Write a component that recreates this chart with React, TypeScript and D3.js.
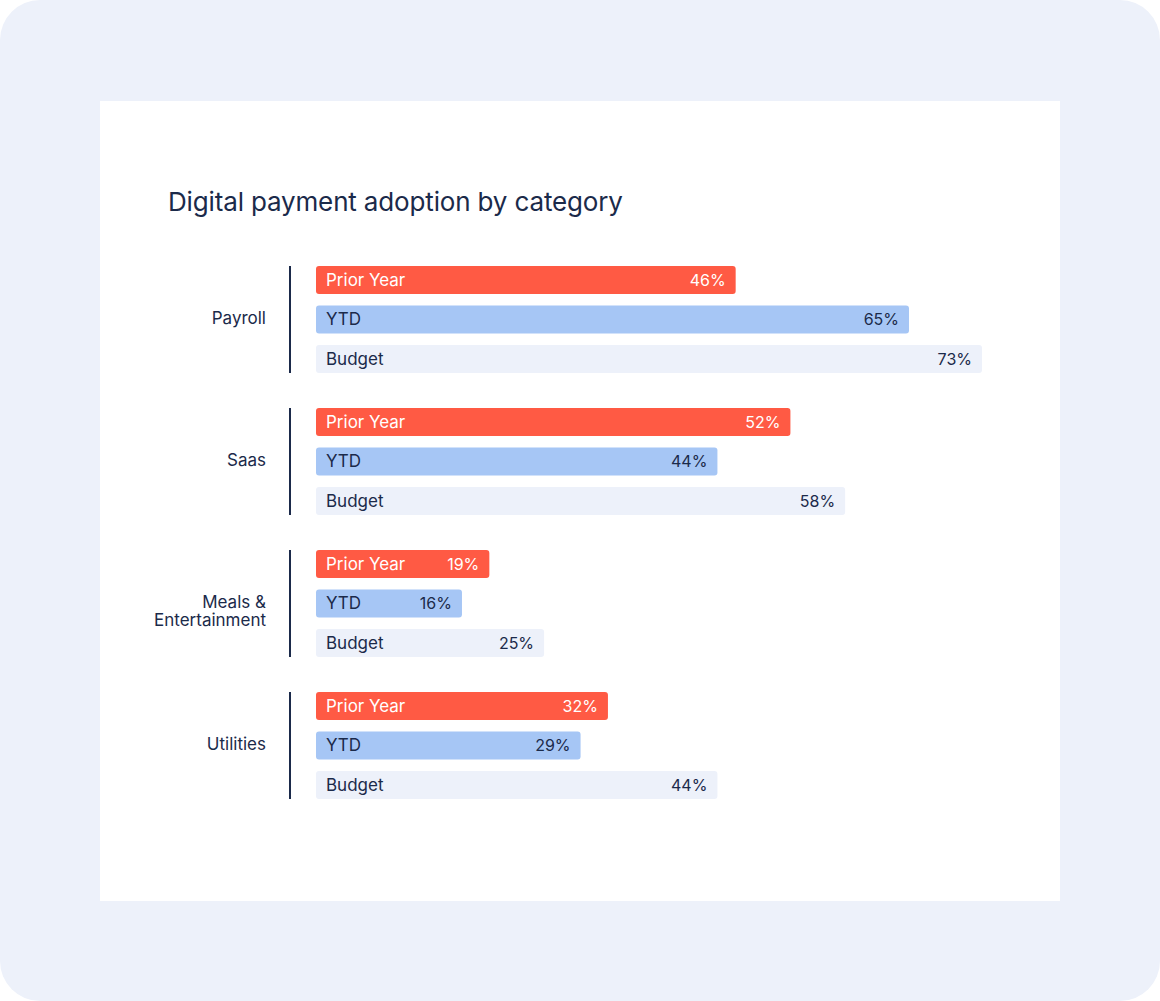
import { useEffect, useRef } from 'react'
import * as d3 from 'd3'

const categories = ['Payroll', 'Saas', 'Meals & Entertainment', 'Utilities']
const series = ['Prior Year', 'YTD', 'Budget']
const priorYear = [46, 52, 19, 32]
const ytd = [65, 44, 16, 29]
const budget = [73, 58, 25, 44]

const FILL: Record<string, string> = { 'Prior Year': '#FF5A44', YTD: '#A6C6F5', Budget: '#EDF1FA' }
const INK: Record<string, string> = { 'Prior Year': '#FFFFFF', YTD: '#1B2A4A', Budget: '#1B2A4A' }
const NAVY = '#1B2A4A'
const FONT = 'Inter, "Noto Sans", sans-serif'

export default function App() {
  const svgRef = useRef<SVGSVGElement>(null)

  useEffect(() => {
    if (!svgRef.current) return
    const W = 1160, H = 1001
    const svg = d3.select(svgRef.current)
    svg.selectAll('*').remove()
    svg.attr('width', W).attr('height', H)

    // backdrop + panel
    svg.append('rect').attr('x', 0).attr('y', 0).attr('width', W).attr('height', H).attr('rx', 40).attr('fill', '#EDF1FA')
    svg.append('rect').attr('x', 100).attr('y', 101).attr('width', 960).attr('height', 800).attr('fill', '#FFFFFF')

    svg.append('text')
      .attr('x', 168).attr('y', 211)
      .attr('fill', NAVY).attr('font-family', FONT).attr('font-size', '26px')
      .attr('letter-spacing', '-0.15px')
      .text('Digital payment adoption by category')

    const values: Record<string, number[]> = { 'Prior Year': priorYear, YTD: ytd, Budget: budget }

    const x = d3.scaleLinear().domain([0, 73]).range([316, 982])
    const yOuter = d3.scaleBand().domain(categories).range([266, 799]).paddingInner(0.246).paddingOuter(0)
    const yInner = d3.scaleBand().domain(series).range([0, yOuter.bandwidth()]).paddingInner(0.291).paddingOuter(0)

    categories.forEach((cat, ci) => {
      const gy = yOuter(cat)!
      const mid = gy + yOuter.bandwidth() / 2

      svg.append('line')
        .attr('x1', 290).attr('x2', 290)
        .attr('y1', gy).attr('y2', gy + yOuter.bandwidth())
        .attr('stroke', NAVY).attr('stroke-width', 2)

      // two-line label hangs from the group middle
      const lines = cat === 'Meals & Entertainment' ? ['Meals &', 'Entertainment'] : [cat]
      lines.forEach((ln, li) => {
        svg.append('text')
          .attr('x', 266)
          .attr('y', mid - 1 + li * 18)
          .attr('dy', '0.35em')
          .attr('text-anchor', 'end')
          .attr('fill', NAVY).attr('font-family', FONT).attr('font-size', '17px')
          .text(ln)
      })

      series.forEach(s => {
        const v = values[s][ci]
        const by = gy + yInner(s)!
        const bh = yInner.bandwidth()
        svg.append('rect')
          .attr('x', x(0)).attr('y', by)
          .attr('width', x(v) - x(0)).attr('height', bh)
          .attr('rx', 3).attr('fill', FILL[s])

        svg.append('text')
          .attr('x', x(0) + 10).attr('y', by + bh / 2).attr('dy', '0.35em')
          .attr('fill', INK[s]).attr('font-family', FONT).attr('font-size', '17px')
          .text(s)

        svg.append('text')
          .attr('x', x(v) - 10).attr('y', by + bh / 2).attr('dy', '0.35em')
          .attr('text-anchor', 'end')
          .attr('fill', INK[s]).attr('font-family', FONT).attr('font-size', '16px')
          .text(`${v}%`)
      })
    })
  }, [])

  return (
    <svg ref={svgRef} style={{ position: 'absolute', left: 0, top: 0, display: 'block' }} />
  )
}
